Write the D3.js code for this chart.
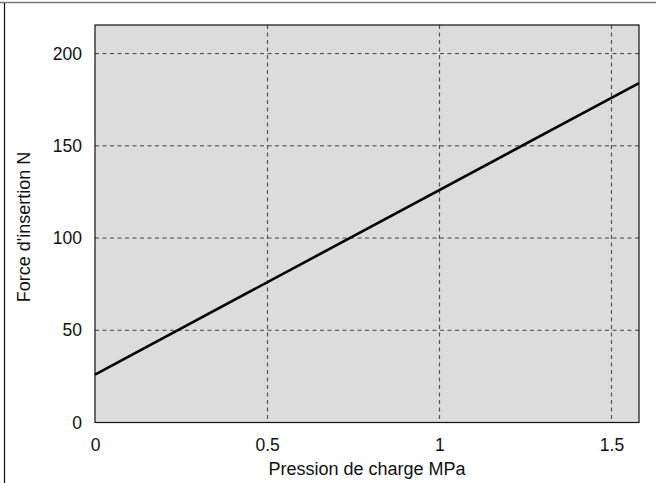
<!DOCTYPE html>
<html>
<head>
<meta charset="utf-8">
<script src="https://d3js.org/d3.v7.min.js"></script>
<style>
    body { margin: 0; background: white; }
    text { font-family: "Liberation Sans", Arial, sans-serif; fill: #111; }
</style>
</head>
<body>
<svg width="656" height="483"></svg>
<script>
// values
var pressure = [0, 1.58];          // MPa
var force = [26, 184];              // N
var xTicks = [0, 0.5, 1, 1.5];
var yTicks = [0, 50, 100, 150, 200];
var xTitle = "Pression de charge MPa";
var yTitle = "Force d'insertion N";

var svg = d3.select("svg");

var plotL = 95, plotR = 639, plotT = 25, plotB = 422.5;

var x = d3.scaleLinear().domain([0, 1.58]).range([plotL, plotR]);
var y = d3.scaleLinear().domain([0, 215.5]).range([plotB, plotT]);

// outer frame (only top and left edges show)
svg.append("line").attr("x1", 0).attr("x2", 656).attr("y1", 2.5).attr("y2", 2.5)
    .attr("stroke", "#777").attr("stroke-width", 1.5);
svg.append("line").attr("x1", 4.5).attr("x2", 4.5).attr("y1", 3).attr("y2", 483)
    .attr("stroke", "#111").attr("stroke-width", 1.2);

// plot background
svg.append("rect")
    .attr("x", plotL).attr("y", plotT)
    .attr("width", plotR - plotL).attr("height", plotB - plotT)
    .attr("fill", "#dcdcdc");

// grid
svg.append("g").selectAll("line")
    .data(yTicks.filter(d => d > 0))
    .enter().append("line")
    .attr("x1", plotL).attr("x2", plotR)
    .attr("y1", d => y(d)).attr("y2", d => y(d))
    .attr("stroke", "#444").attr("stroke-width", 1)
    .attr("stroke-dasharray", "4,3.5");

svg.append("g").selectAll("line")
    .data(xTicks.filter(d => d > 0))
    .enter().append("line")
    .attr("x1", d => Math.round(x(d)) + 0.5).attr("x2", d => Math.round(x(d)) + 0.5)
    .attr("y1", plotT).attr("y2", plotB)
    .attr("stroke", "#555").attr("stroke-width", 1.2)
    .attr("stroke-dasharray", "4,3.5");

// plot border
svg.append("rect")
    .attr("x", plotL).attr("y", plotT)
    .attr("width", plotR - plotL).attr("height", plotB - plotT)
    .attr("fill", "none").attr("stroke", "#111").attr("stroke-width", 1.2);

// the line
var pts = pressure.map((p, i) => [p, force[i]]);
svg.append("path")
    .datum(pts)
    .attr("fill", "none")
    .attr("stroke", "#000")
    .attr("stroke-width", 2.6)
    .attr("d", d3.line().x(d => x(d[0])).y(d => y(d[1])));

// axes (labels only, no tick marks)
var yAxis = svg.append("g")
    .attr("transform", "translate(" + plotL + ",0)")
    .call(d3.axisLeft(y).tickValues(yTicks).tickSize(0).tickPadding(13).tickFormat(d3.format("d")));
var xAxis = svg.append("g")
    .attr("transform", "translate(0," + plotB + ")")
    .call(d3.axisBottom(x).tickValues(xTicks).tickSize(0).tickPadding(16).tickFormat(d => String(d)));

[yAxis, xAxis].forEach(function(a) {
    a.select(".domain").remove();
    a.selectAll("text")
        .style("font-family", "'Liberation Sans', Arial, sans-serif")
        .style("font-size", "17.5px")
        .attr("fill", "#111");
});

// titles
svg.append("text")
    .attr("x", (plotL + plotR) / 2).attr("y", 475)
    .attr("text-anchor", "middle")
    .style("font-size", "18px")
    .text(xTitle);

svg.append("text")
    .attr("transform", "translate(30,227) rotate(-90)")
    .attr("text-anchor", "middle")
    .style("font-size", "18px")
    .text(yTitle);
</script>
</body>
</html>
